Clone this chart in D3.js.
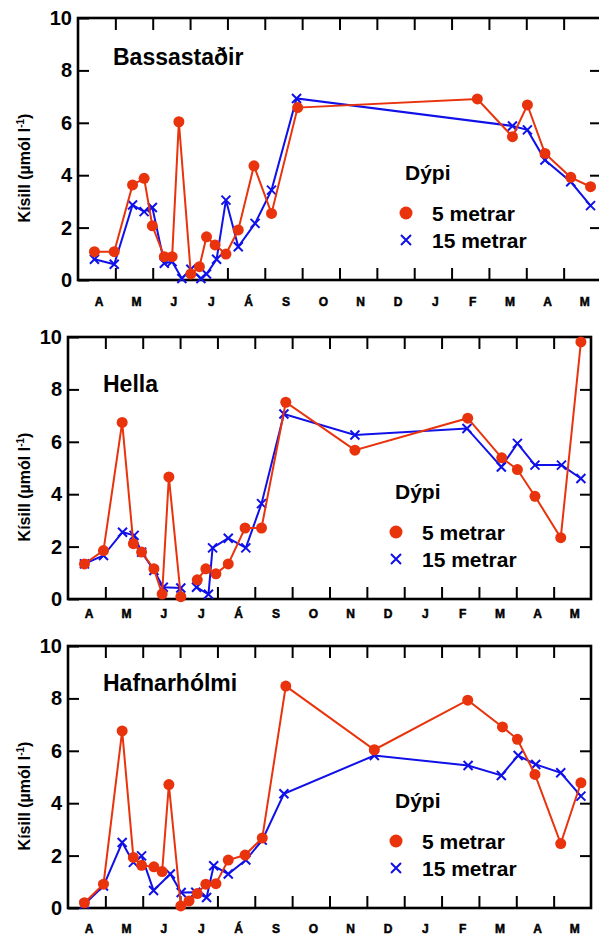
<!DOCTYPE html>
<html>
<head>
<meta charset="UTF-8">
<title>Kísill</title>
<script src="https://d3js.org/d3.v7.min.js"></script>
<style>
  body {margin: 0; background: #fff;}
  text {font-family: "Liberation Sans", Arial, sans-serif; fill: #000;}
  .frame {fill: none; stroke: #000; stroke-width: 2.6;}
  .tick line {stroke: #000; stroke-width: 2;}
  .domain {display: none;}
  .ylab text {font-size: 20px; font-weight: bold;}
  .mlab text {font-size: 12px; font-weight: bold; stroke: #000; stroke-width: 0.5;}
  .title {font-size: 23px; font-weight: bold;}
  .leg {font-size: 21px; font-weight: bold;}
  .ytitle {font-size: 16px; font-weight: bold;}
</style>
</head>
<body>
<div id="chart"></div>
<script>
// month labels (April .. May next year), x is months since 1 April
var months = ["A","M","J","J","Á","S","O","N","D","J","F","M","A","M"];
var yTicks = [0, 2, 4, 6, 8, 10];
var sites = ["Bassastaðir", "Hella", "Hafnarhólmi"];

// Bassastaðir
var bassT5  = [0.44,0.97,1.46,1.77,1.99,2.31,2.52,2.70,3.02,3.25,3.44,3.67,3.96,4.29,4.71,5.18,5.88,10.69,11.63,12.03,12.50,13.19,13.72];
var bass5   = [1.08,1.08,3.63,3.88,2.07,0.89,0.89,6.04,0.23,0.51,1.65,1.34,0.99,1.91,4.36,2.54,6.58,6.91,5.47,6.68,4.83,3.92,3.56];
var bassT15 = [0.44,0.97,1.46,1.77,1.99,2.31,2.52,2.78,3.02,3.29,3.44,3.71,3.96,4.29,4.74,5.18,5.85,11.63,12.03,12.50,13.19,13.72];
var bass15  = [0.79,0.60,2.86,2.61,2.77,0.64,0.70,0.06,0.41,0.06,0.23,0.79,3.05,1.27,2.16,3.43,6.93,5.88,5.73,4.58,3.75,2.84];

// Hella (null = no sample, line broken)
var hellT5  = [0.44,0.95,1.45,1.75,1.97,2.30,2.52,2.70,3.02,3.24,3.46,3.69,3.96,4.29,4.74,5.18,5.83,7.68,10.70,11.61,12.03,12.50,13.19,13.73];
var hell5   = [1.34,1.85,6.74,2.11,1.79,1.15,0.19,4.66,0.09,null,0.73,1.15,0.96,1.34,2.71,2.71,7.51,5.68,6.90,5.39,4.94,3.92,2.34,9.81];
var hellT15 = [0.44,0.95,1.46,1.77,1.97,2.30,2.55,3.02,3.24,3.44,3.76,3.87,4.29,4.76,5.18,5.78,7.68,10.68,11.60,12.03,12.50,13.21,13.73];
var hell15  = [1.34,1.66,2.55,2.43,1.79,1.09,0.45,0.42,null,0.45,0.18,1.95,2.32,1.95,3.64,7.06,6.26,6.51,5.04,5.94,5.11,5.11,4.60];

// Hafnarhólmi
var hafT5  = [0.44,0.95,1.45,1.75,1.97,2.30,2.52,2.70,3.02,3.24,3.46,3.69,3.96,4.29,4.74,5.20,5.83,8.20,10.70,11.63,12.03,12.50,13.19,13.73];
var haf5   = [0.20,0.91,6.76,1.93,1.63,1.57,1.39,4.71,0.08,0.27,0.55,0.91,0.93,1.83,2.02,2.67,8.47,6.04,7.93,6.91,6.44,5.10,2.46,4.78];
var hafT15 = [0.44,0.95,1.45,1.75,1.97,2.29,2.74,3.03,3.42,3.71,3.90,4.29,4.76,5.20,5.78,8.20,10.71,11.60,12.05,12.52,13.19,13.73];
var haf15  = [0.14,0.84,2.50,1.74,1.99,0.67,1.30,0.59,0.60,0.40,1.61,1.30,1.83,2.59,4.36,5.82,5.44,5.06,5.82,5.48,5.16,4.27];

var series5  = [[bassT5, bass5], [hellT5, hell5], [hafT5, haf5]];
var series15 = [[bassT15, bass15], [hellT15, hell15], [hafT15, haf15]];

var red = "#e8330c", blue = "#1010e8";

// layout of the three panels
var panels = [
  {left: 78, top: 18, titleDy: 47, monthPad: 17.5},
  {left: 68, top: 337, titleDy: 55, monthPad: 10.5},
  {left: 68, top: 646, titleDy: 45, monthPad: 16.5}
];
var width = 523, height = 262;

var svg = d3.select("#chart").append("svg")
    .attr("width", 599)
    .attr("height", 936);

var x = d3.scaleLinear().domain([0, 14]).range([0, width]);
var y = d3.scaleLinear().domain([0, 10]).range([height, 0]);

var line = d3.line()
    .defined(function(d) { return d[1] != null; })
    .x(function(d) { return x(d[0]); })
    .y(function(d) { return y(d[1]); });

function pairs(s) {
  return s[0].map(function(t, i) { return [t, s[1][i]]; });
}

function cross(g, cx, cy, r) {
  g.append("path")
      .attr("d", "M" + (cx - r) + "," + (cy - r) + "L" + (cx + r) + "," + (cy + r) +
                 "M" + (cx - r) + "," + (cy + r) + "L" + (cx + r) + "," + (cy - r))
      .attr("stroke", blue)
      .attr("stroke-width", 2)
      .attr("fill", "none");
}

panels.forEach(function(p, k) {
  var g = svg.append("g")
      .attr("transform", "translate(" + p.left + "," + p.top + ")");

  var ticks = d3.range(1, 14);
  var mids = months.map(function(m, i) { return i + 0.5; });

  // inward ticks on all four sides
  g.append("g").attr("class", "ylab")
      .call(d3.axisLeft(y).tickValues(yTicks).tickSize(-11).tickSizeOuter(0).tickPadding(6));
  g.append("g").attr("transform", "translate(" + width + ",0)")
      .call(d3.axisRight(y).tickValues([2, 4, 6, 8]).tickSize(-11).tickSizeOuter(0).tickFormat(""));
  g.append("g").attr("transform", "translate(0," + height + ")")
      .call(d3.axisBottom(x).tickValues(ticks).tickSize(-12).tickSizeOuter(0).tickFormat(""));
  g.append("g")
      .call(d3.axisTop(x).tickValues(ticks).tickSize(-12).tickSizeOuter(0).tickFormat(""));
  g.append("g").attr("class", "mlab").attr("transform", "translate(2," + height + ")")
      .call(d3.axisBottom(x).tickValues(mids).tickSize(0).tickPadding(p.monthPad)
        .tickFormat(function(d, i) { return months[i]; }));

  g.append("rect").attr("class", "frame")
      .attr("width", width).attr("height", height);

  g.append("text").attr("class", "title")
      .attr("x", 35).attr("y", p.titleDy)
      .text(sites[k]);

  var yt = svg.append("text").attr("class", "ytitle")
      .attr("text-anchor", "middle")
      .attr("transform", "translate(30," + (p.top + 150) + ") rotate(-90)");
  yt.append("tspan").text("Kísill (µmól l");
  yt.append("tspan").attr("dy", -6).attr("font-size", 10).text("-1");
  yt.append("tspan").attr("dy", 6).text(")");

  // 15 m series
  var d15 = pairs(series15[k]);
  g.append("path").datum(d15)
      .attr("d", line)
      .attr("fill", "none").attr("stroke", blue).attr("stroke-width", 2);
  d15.filter(function(d) { return d[1] != null; }).forEach(function(d) {
    cross(g, x(d[0]), y(d[1]), 4.5);
  });

  // 5 m series
  var d5 = pairs(series5[k]);
  g.append("path").datum(d5)
      .attr("d", line)
      .attr("fill", "none").attr("stroke", red).attr("stroke-width", 2);
  g.selectAll(".dot").data(d5.filter(function(d) { return d[1] != null; }))
    .enter().append("circle")
      .attr("class", "dot")
      .attr("cx", function(d) { return x(d[0]); })
      .attr("cy", function(d) { return y(d[1]); })
      .attr("r", 5.5)
      .attr("fill", red);

  // legend
  var lg = g.append("g").attr("transform", "translate(327,162)");
  lg.append("text").attr("class", "leg").attr("x", 0).attr("y", 0).text("Dýpi");
  lg.append("circle").attr("cx", 1).attr("cy", 33).attr("r", 6.5).attr("fill", red);
  lg.append("text").attr("class", "leg").attr("x", 27).attr("y", 41).text("5 metrar");
  cross(lg, 1, 60, 5);
  lg.append("text").attr("class", "leg").attr("x", 27).attr("y", 68).text("15 metrar");
});
</script>
</body>
</html>
